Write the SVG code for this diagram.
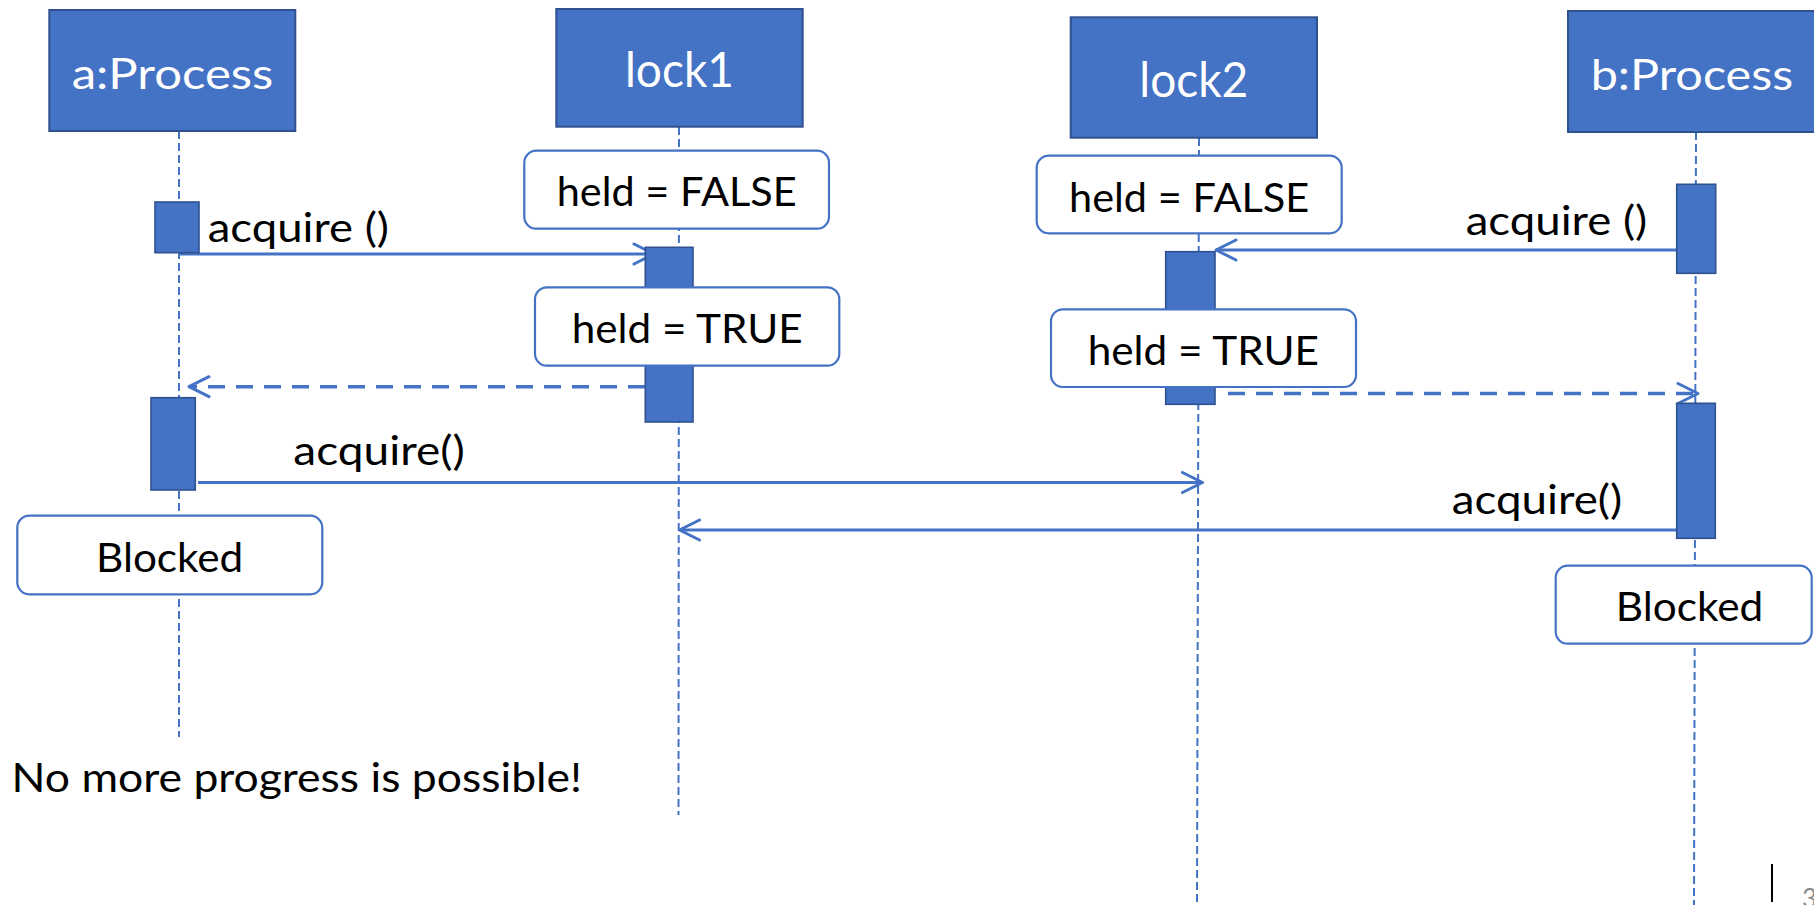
<svg xmlns="http://www.w3.org/2000/svg" width="1814" height="905" viewBox="0 0 1814 905">
  <style>
    text { font-family: Lato, "Liberation Sans", sans-serif; }
    .head rect { fill: #4472C4; stroke: #2F528F; stroke-width: 2; }
    .head text { fill: #FFFFFF; }
    .state rect { fill: #FFFFFF; stroke: #4472C4; stroke-width: 2.2; }
    .state text { fill: #000000; font-size: 41px; }
    .bar { fill: #4472C4; stroke: #2F528F; stroke-width: 1.6; }
    .life { stroke: #4472C4; stroke-width: 2; stroke-dasharray: 8 4; fill: none; }
    .msg { stroke: #4472C4; stroke-width: 3; fill: none; marker-end: url(#open); }
    .ret { stroke: #4472C4; stroke-width: 3.5; stroke-dasharray: 17 11; fill: none; marker-end: url(#open); }
    .lbl { fill: #000000; font-size: 40px; }
  </style>
  <defs>
    <marker id="open" markerUnits="userSpaceOnUse" viewBox="-22 -12 24 24" refX="0" refY="0" markerWidth="24" markerHeight="24" orient="auto">
      <path d="M -20 -10 L 0 0 L -20 10" fill="none" stroke="#4472C4" stroke-width="3" stroke-linecap="round" stroke-linejoin="round"/>
    </marker>
  </defs>

  <rect width="1814" height="905" fill="#FFFFFF"/>

  <!-- lifelines -->
  <g id="lifelines">
    <line class="life" x1="179" y1="131" x2="179" y2="737"/>
    <line class="life" x1="679" y1="127" x2="678.5" y2="815"/>
    <line class="life" x1="1199" y1="138" x2="1197" y2="905"/>
    <line class="life" x1="1696" y1="132" x2="1694" y2="905"/>
  </g>

  <!-- messages -->
  <g id="connectors">
    <line class="msg" x1="179" y1="254" x2="654" y2="254"/>
    <line class="ret" x1="645" y1="386.7" x2="189" y2="386.7"/>
    <line class="msg" x1="1677" y1="250" x2="1216" y2="250"/>
    <line class="ret" x1="1228" y1="393.5" x2="1698" y2="393.5"/>
    <line class="msg" x1="198" y1="482.5" x2="1202.5" y2="482.5"/>
    <line class="msg" x1="1677" y1="530" x2="679.5" y2="530"/>
  </g>

  <!-- activation bars -->
  <g id="activations">
    <rect id="bar-a1" class="bar" x="155" y="202" width="44" height="50.7"/>
    <rect id="bar-lock1" class="bar" x="645.3" y="247.3" width="47.7" height="174.7"/>
    <rect id="bar-a2" class="bar" x="151" y="397.7" width="44.3" height="92.3"/>
    <rect id="bar-lock2" class="bar" x="1165.7" y="251.7" width="49.3" height="152.6"/>
    <rect id="bar-b1" class="bar" x="1676.7" y="184.3" width="39" height="89"/>
    <rect id="bar-b2" class="bar" x="1676.7" y="403.3" width="38.6" height="135"/>
  </g>

  <!-- message labels -->
  <g id="labels">
    <text class="lbl" x="207.7" y="241.7" textLength="181.3" lengthAdjust="spacingAndGlyphs">acquire ()</text>
    <text class="lbl" x="1465.7" y="235" textLength="181.6" lengthAdjust="spacingAndGlyphs">acquire ()</text>
    <text class="lbl" x="293.3" y="465" textLength="171.5" lengthAdjust="spacingAndGlyphs">acquire()</text>
    <text class="lbl" x="1451.7" y="514.3" textLength="170.6" lengthAdjust="spacingAndGlyphs">acquire()</text>
  </g>

  <!-- state boxes -->
  <g id="state-lock1-false" class="state">
    <rect x="524.3" y="150.7" width="304.7" height="78" rx="12"/>
    <text x="556.7" y="206" textLength="240" lengthAdjust="spacingAndGlyphs">held = FALSE</text>
  </g>
  <g id="state-lock1-true" class="state">
    <rect x="535" y="287.3" width="304.3" height="78.4" rx="12"/>
    <text x="571.7" y="342.7" textLength="231" lengthAdjust="spacingAndGlyphs">held = TRUE</text>
  </g>
  <g id="state-lock2-false" class="state">
    <rect x="1036.7" y="155.7" width="305" height="77.6" rx="12"/>
    <text x="1069" y="211.7" textLength="240.3" lengthAdjust="spacingAndGlyphs">held = FALSE</text>
  </g>
  <g id="state-lock2-true" class="state">
    <rect x="1051" y="309.3" width="305" height="77.7" rx="12"/>
    <text x="1087.7" y="365" textLength="231.3" lengthAdjust="spacingAndGlyphs">held = TRUE</text>
  </g>
  <g id="state-a-blocked" class="state">
    <rect x="17.3" y="515.7" width="305" height="78.6" rx="12"/>
    <text x="96" y="571.7" textLength="147.3" lengthAdjust="spacingAndGlyphs">Blocked</text>
  </g>
  <g id="state-b-blocked" class="state">
    <rect x="1555.7" y="565.7" width="256" height="78" rx="12"/>
    <text x="1615.7" y="620.5" textLength="147.6" lengthAdjust="spacingAndGlyphs">Blocked</text>
  </g>

  <!-- participants -->
  <g id="a-process" class="head">
    <rect x="49.3" y="10" width="246" height="121"/>
    <text x="71.7" y="89.3" font-size="42" textLength="201.6" lengthAdjust="spacingAndGlyphs">a:Process</text>
  </g>
  <g id="lock1" class="head">
    <rect x="556.3" y="9" width="246.4" height="117.7"/>
    <text x="625" y="86.7" font-size="49" textLength="109" lengthAdjust="spacingAndGlyphs">lock1</text>
  </g>
  <g id="lock2" class="head">
    <rect x="1070.7" y="17.3" width="246.3" height="120.4"/>
    <text x="1139.3" y="96.7" font-size="48" textLength="109" lengthAdjust="spacingAndGlyphs">lock2</text>
  </g>
  <g id="b-process" class="head">
    <rect x="1568" y="11" width="252" height="121"/>
    <text x="1590.7" y="90" font-size="42" textLength="202.6" lengthAdjust="spacingAndGlyphs">b:Process</text>
  </g>

  <!-- note -->
  <text class="lbl" x="11.6" y="792.3" textLength="570.4" lengthAdjust="spacingAndGlyphs">No more progress is possible!</text>

  <!-- page number -->
  <line x1="1772" y1="864" x2="1772" y2="902" stroke="#000000" stroke-width="2"/>
  <text x="1802" y="908" font-size="26" fill="#8C8C8C">3</text>
</svg>
